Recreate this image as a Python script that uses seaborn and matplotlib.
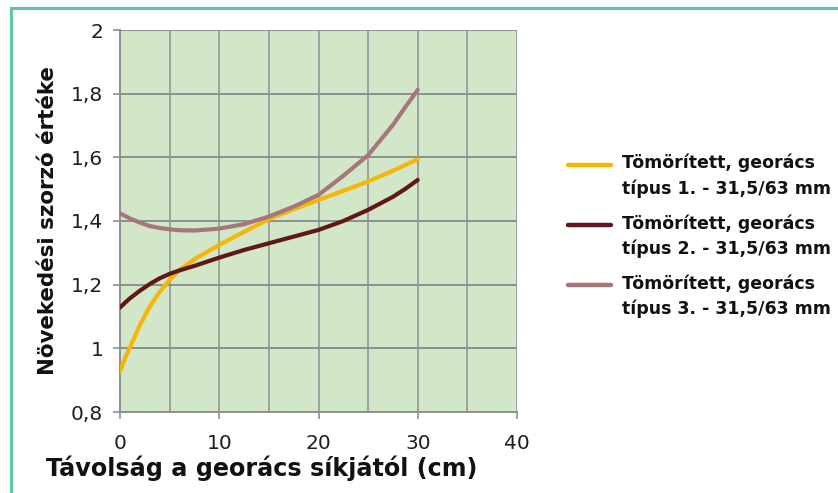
import numpy as np
import pandas as pd
import matplotlib
matplotlib.use("Agg")
import matplotlib.pyplot as plt
from matplotlib.patches import Rectangle
from matplotlib.legend_handler import HandlerLine2D
import seaborn as sns

# Distance from the geogrid plane (cm)
distance = [0, 0.5, 1, 2, 3, 4, 5, 6, 7.5, 10, 12.5, 15, 17.5, 20, 22.5, 25, 27.5, 28.75, 30]

# Growth multiplier for the three geogrid types
type1 = [0.927, 0.969, 1.003, 1.073, 1.131, 1.178, 1.215, 1.246, 1.280, 1.325,
         1.366, 1.406, 1.437, 1.466, 1.495, 1.524, 1.558, 1.576, 1.594]
type2 = [1.128, 1.143, 1.157, 1.181, 1.202, 1.220, 1.234, 1.245, 1.259, 1.285,
         1.309, 1.330, 1.351, 1.372, 1.400, 1.435, 1.476, 1.501, 1.529]
type3 = [1.424, 1.416, 1.408, 1.395, 1.384, 1.378, 1.374, 1.371, 1.370, 1.376,
         1.390, 1.414, 1.445, 1.482, 1.542, 1.607, 1.702, 1.758, 1.812]

series_names = [
    "Tömörített, georács\ntípus 1. - 31,5/63 mm",
    "Tömörített, georács\ntípus 2. - 31,5/63 mm",
    "Tömörített, georács\ntípus 3. - 31,5/63 mm",
]
colors = ["#f6b606", "#611719", "#a5777d"]

x_ticks = [0, 10, 20, 30, 40]
y_ticks = [0.8, 1.0, 1.2, 1.4, 1.6, 1.8, 2.0]
y_ticklabels = ["0,8", "1", "1,2", "1,4", "1,6", "1,8", "2"]

df = pd.DataFrame({
    "x": distance * 3,
    "y": type1 + type2 + type3,
    "series": sum([[n] * len(distance) for n in series_names], []),
})

sns.set_theme(style="white")
plt.rcParams["font.family"] = ["DejaVu Sans"]

fig = plt.figure(figsize=(8.38, 4.93), dpi=100)
fig.patch.set_facecolor("white")
ax = fig.add_axes([120 / 838, 1 - 412 / 493, 397 / 838, 382 / 493])
ax.set_facecolor("#d1e7c8")

# Outer frame along the top and left edge of the figure
fig.patches.append(Rectangle((10.5 / 838, -0.1), 1.2, 1 - 7.5 / 493 + 0.1,
                             transform=fig.transFigure, fill=False,
                             edgecolor="#5fc99b", linewidth=2.2, zorder=0))

for gx in np.arange(5, 41, 5):
    ax.axvline(gx, color="#9aa39d", linewidth=1.4, zorder=1)
for gy in y_ticks[1:]:
    ax.axhline(gy, color="#8c908d", linewidth=1.4, zorder=1)

sns.lineplot(data=df, x="x", y="y", hue="series", palette=colors,
             linewidth=3.0, ax=ax, legend=False, zorder=3)

ax.set_xlim(0, 40)
ax.set_ylim(0.8, 2.0)
ax.set_xticks(x_ticks)
ax.set_yticks(y_ticks)
ax.set_yticklabels(y_ticklabels)

for side in ["top", "right"]:
    ax.spines[side].set_visible(False)
for side in ["left", "bottom"]:
    ax.spines[side].set_color("#8c908d")
    ax.spines[side].set_linewidth(1.4)

ax.tick_params(axis="both", which="both", direction="out", length=5,
               width=1.2, color="#8c908d", labelsize=14.5, labelcolor="#1e1e1e")
ax.tick_params(axis="x", pad=11, bottom=True)
ax.tick_params(axis="y", pad=7, left=True)

ax.set_xlabel("Távolság a georács síkjától (cm)", fontsize=17.2, fontweight="bold",
              color="#111111")
ax.xaxis.set_label_coords(0.356, -0.113)
ax.set_ylabel("Növekedési szorzó értéke", fontsize=15.4, fontweight="bold",
              color="#111111")
ax.yaxis.set_label_coords(-0.155, 0.5)

LEG_SIZE = 12.5
LINE_GAP_PT = 24 * 72 / 100  # distance between the two text lines


class UpperLineHandler(HandlerLine2D):
    """Line key aligned with the first line of a two-line label."""

    def create_artists(self, legend, orig_handle, xdescent, ydescent, width,
                       height, fontsize, trans):
        arts = super().create_artists(legend, orig_handle, xdescent, ydescent,
                                      width, height, fontsize, trans)
        for a in arts:
            a.set_ydata(np.asarray(a.get_ydata()) + LINE_GAP_PT / 2)
        return arts


handles = [plt.Line2D([], [], color=c, linewidth=3.2) for c in colors]
leg = ax.legend(handles, series_names, loc="upper left",
                bbox_to_anchor=(568 / 838, 1 - 154 / 493),
                bbox_transform=fig.transFigure, frameon=False,
                prop={"size": LEG_SIZE, "weight": "bold"}, handlelength=2.5,
                handletextpad=0.62, labelspacing=0.96, borderpad=0,
                borderaxespad=0,
                handler_map={plt.Line2D: UpperLineHandler()})
for t in leg.get_texts():
    t.set_color("#111111")
    t.set_linespacing(1.45)

fig.savefig("out.png", dpi=100, facecolor="white")
